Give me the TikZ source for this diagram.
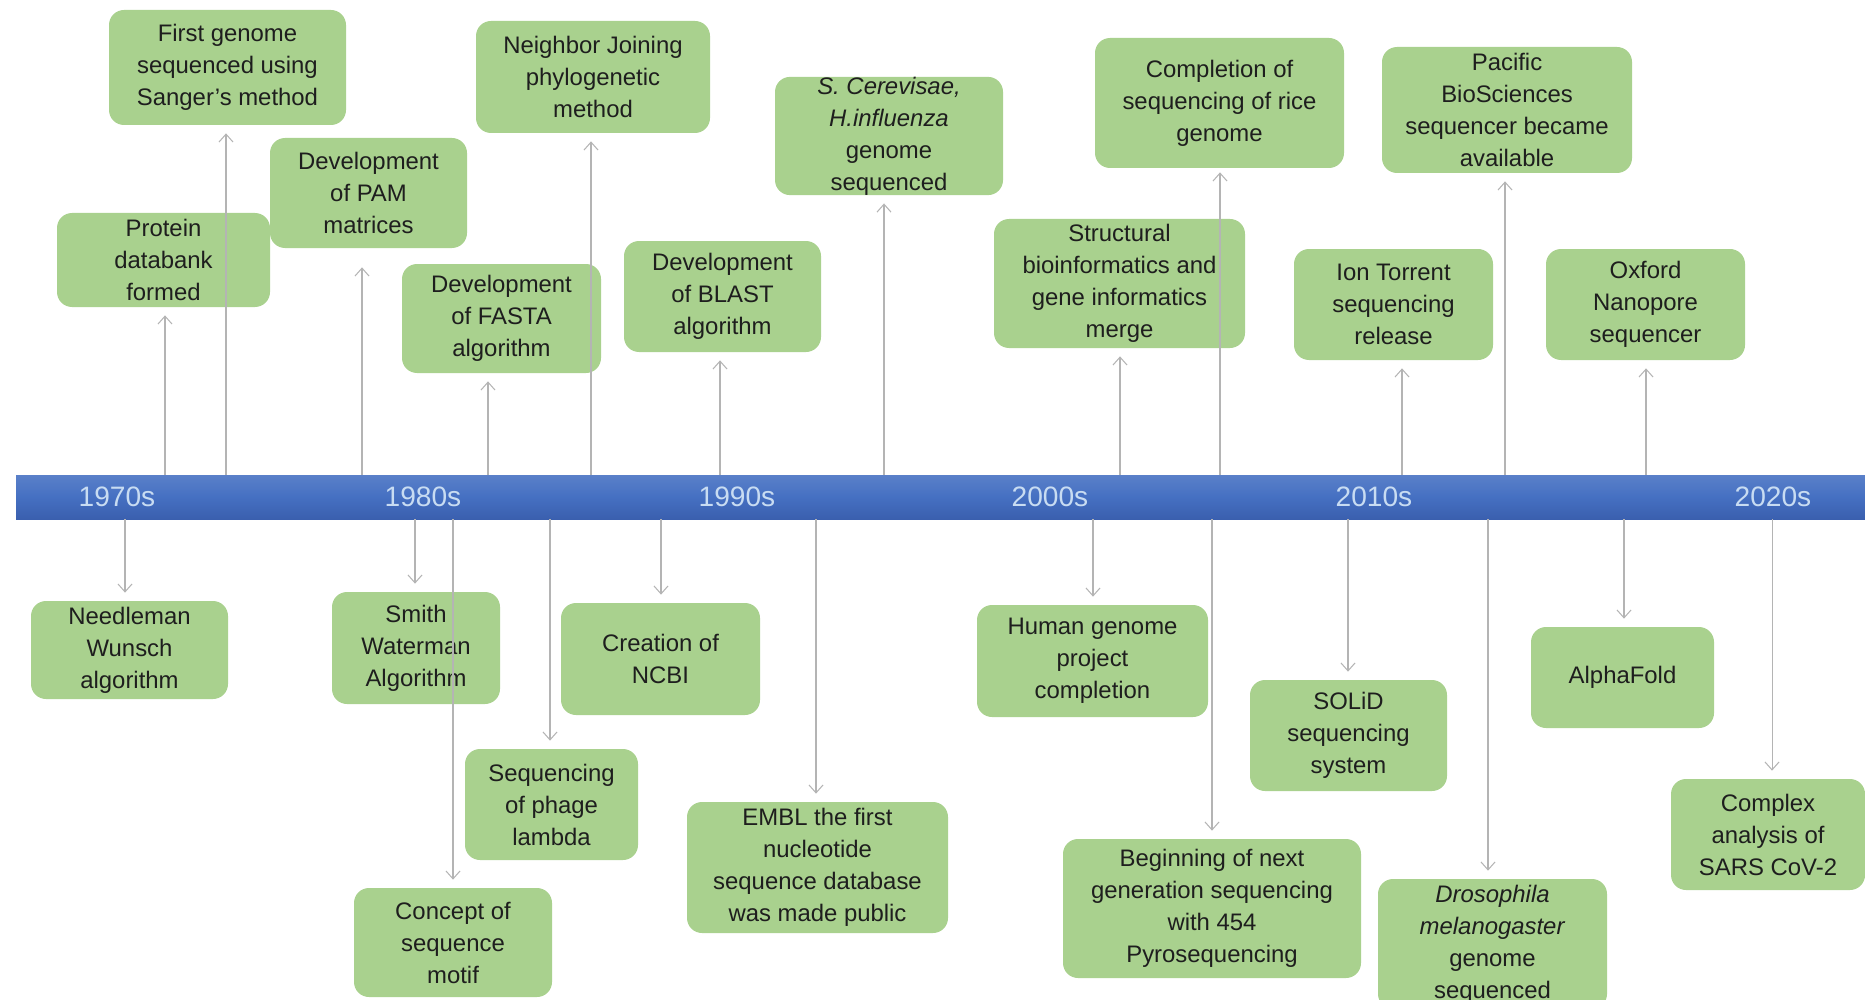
\documentclass[tikz,border=0pt]{standalone}
\usepackage{fontspec}
\setmainfont{Liberation Sans}
\usetikzlibrary{arrows.meta}
\definecolor{boxgreen}{HTML}{A9D18E}
\definecolor{boxtext}{HTML}{1E1E1E}
\definecolor{bartop}{HTML}{5A80C9}
\definecolor{barmid}{HTML}{4570C2}
\definecolor{barbot}{HTML}{3A5FAE}
\definecolor{yeartext}{HTML}{C8DCF2}
\definecolor{linegray}{HTML}{B4B4B4}

\begin{document}
\begin{tikzpicture}[x=0.02cm, y=-0.02cm,
  event/.style={rounded corners=0.3cm, fill=boxgreen, text=boxtext, align=center,
    inner sep=0pt, font=\fontsize{13.6pt}{18.2pt}\selectfont},
  size/.style 2 args={minimum width=#1*0.02cm, minimum height=#2*0.02cm},
  timebar/.style={top color=bartop, bottom color=barbot, middle color=barmid, inner sep=0pt},
  decade/.style={text=yeartext, font=\fontsize{16pt}{19pt}\selectfont},
  tick/.style={draw=linegray, line width=0.6pt, -{Straight Barb[length=4.5pt,width=8pt]},
    shorten >=0.16cm}]
  \useasboundingbox (0,0) rectangle (1865,1000);

  % Timeline
  \node[timebar, size={1849}{44}] (bar) at (940.5,497) {};
  \node[decade] (d70) at (117,497) {1970s};
  \node[decade] (d80) at (423,497) {1980s};
  \node[decade] (d90) at (737,497) {1990s};
  \node[decade] (d00) at (1050,497) {2000s};
  \node[decade] (d10) at (1374,497) {2010s};
  \node[decade] (d20) at (1773,497) {2020s};

  % Events above the bar
  \node[event, size={237}{115}] (fgs) at (227.5,67.5) {First genome\\sequenced using\\Sanger’s method};
  \node[event, size={213}{94}] (pdb) at (163.5,260) {Protein\\databank\\formed};
  \node[event, size={197}{110}] (pam) at (368.5,193) {Development\\of PAM\\matrices};
  \node[event, size={199}{109}] (fasta) at (501.5,318.5) {Development\\of FASTA\\algorithm};
  \node[event, size={234}{112}] (nj) at (593,77) {Neighbor Joining\\phylogenetic\\method};
  \node[event, size={197}{111}] (blast) at (722.5,296.5) {Development\\of BLAST\\algorithm};
  \node[event, size={228}{118}] (scer) at (889,136) {\textit{S. Cerevisae,}\\\textit{H.influenza}\\genome\\sequenced};
  \node[event, size={251}{129}] (sbi) at (1119.5,283.5) {Structural\\bioinformatics and\\gene informatics\\merge};
  \node[event, size={249}{130}] (rice) at (1219.5,103) {Completion of\\sequencing of rice\\genome};
  \node[event, size={199}{111}] (ion) at (1393.5,304.5) {Ion Torrent\\sequencing\\release};
  \node[event, size={250}{126}] (pacbio) at (1507,110) {Pacific\\BioSciences\\sequencer became\\available};
  \node[event, size={199}{111}] (oxford) at (1645.5,304.5) {Oxford\\Nanopore\\sequencer};

  % Events below the bar
  \node[event, size={197}{98}] (nw) at (129.5,650) {Needleman\\Wunsch\\algorithm};
  \node[event, size={168}{112}] (sw) at (416,648) {Smith\\Waterman\\Algorithm};
  \node[event, size={198}{109}] (motif) at (453,942.5) {Concept of\\sequence\\motif};
  \node[event, size={173}{111}] (phage) at (551.5,804.5) {Sequencing\\of phage\\lambda};
  \node[event, size={199}{112}] (ncbi) at (660.5,659) {Creation of\\NCBI};
  \node[event, size={261}{131}] (embl) at (817.5,867.5) {EMBL the first\\nucleotide\\sequence database\\was made public};
  \node[event, size={231}{112}] (hgp) at (1092.5,661) {Human genome\\project\\completion};
  \node[event, size={298}{139}] (ngs) at (1212,908.5) {Beginning of next\\generation sequencing\\with 454\\Pyrosequencing};
  \node[event, size={197}{111}] (solid) at (1348.5,735.5) {SOLiD\\sequencing\\system};
  \node[event, size={229}{130}] (dros) at (1492.5,944) {\textit{Drosophila}\\\textit{melanogaster}\\genome\\sequenced};
  \node[event, size={183}{101}] (alpha) at (1622.5,677.5) {AlphaFold};
  \node[event, size={194}{111}] (sars) at (1768,834.5) {Complex\\analysis of\\SARS CoV-2};

  % Arrow feet on the bar
  \coordinate (a-pdb) at (165,475);
  \coordinate (a-fgs) at (226,475);
  \coordinate (a-pam) at (362,475);
  \coordinate (a-fasta) at (488,475);
  \coordinate (a-nj) at (591,475);
  \coordinate (a-blast) at (720,475);
  \coordinate (a-scer) at (884,475);
  \coordinate (a-sbi) at (1120,475);
  \coordinate (a-rice) at (1220,475);
  \coordinate (a-ion) at (1402,475);
  \coordinate (a-pacbio) at (1505,475);
  \coordinate (a-oxford) at (1646,475);
  \coordinate (a-nw) at (125,519);
  \coordinate (a-sw) at (415,519);
  \coordinate (a-motif) at (453,519);
  \coordinate (a-phage) at (550,519);
  \coordinate (a-ncbi) at (661,519);
  \coordinate (a-embl) at (816,519);
  \coordinate (a-hgp) at (1093,519);
  \coordinate (a-ngs) at (1212,519);
  \coordinate (a-solid) at (1348,519);
  \coordinate (a-dros) at (1488,519);
  \coordinate (a-alpha) at (1624,519);
  \coordinate (a-sars) at (1772,519);

  % Arrows
  \draw[tick] (a-pdb) -- (a-pdb |- pdb.south);
  \draw[tick] (a-fgs) -- (a-fgs |- fgs.south);
  \draw[tick, shorten >=0.38cm] (a-pam) -- (a-pam |- pam.south);
  \draw[tick] (a-fasta) -- (a-fasta |- fasta.south);
  \draw[tick] (a-nj) -- (a-nj |- nj.south);
  \draw[tick] (a-blast) -- (a-blast |- blast.south);
  \draw[tick] (a-scer) -- (a-scer |- scer.south);
  \draw[tick] (a-sbi) -- (a-sbi |- sbi.south);
  \draw[tick, shorten >=0.08cm] (a-rice) -- (a-rice |- rice.south);
  \draw[tick] (a-ion) -- (a-ion |- ion.south);
  \draw[tick] (a-pacbio) -- (a-pacbio |- pacbio.south);
  \draw[tick] (a-oxford) -- (a-oxford |- oxford.south);
  \draw[tick] (a-nw) -- (a-nw |- nw.north);
  \draw[tick] (a-sw) -- (a-sw |- sw.north);
  \draw[tick] (a-motif) -- (a-motif |- motif.north);
  \draw[tick] (a-phage) -- (a-phage |- phage.north);
  \draw[tick] (a-ncbi) -- (a-ncbi |- ncbi.north);
  \draw[tick] (a-embl) -- (a-embl |- embl.north);
  \draw[tick] (a-hgp) -- (a-hgp |- hgp.north);
  \draw[tick] (a-ngs) -- (a-ngs |- ngs.north);
  \draw[tick] (a-solid) -- (a-solid |- solid.north);
  \draw[tick] (a-dros) -- (a-dros |- dros.north);
  \draw[tick] (a-alpha) -- (a-alpha |- alpha.north);
  \draw[tick] (a-sars) -- (a-sars |- sars.north);
\end{tikzpicture}
\end{document}
